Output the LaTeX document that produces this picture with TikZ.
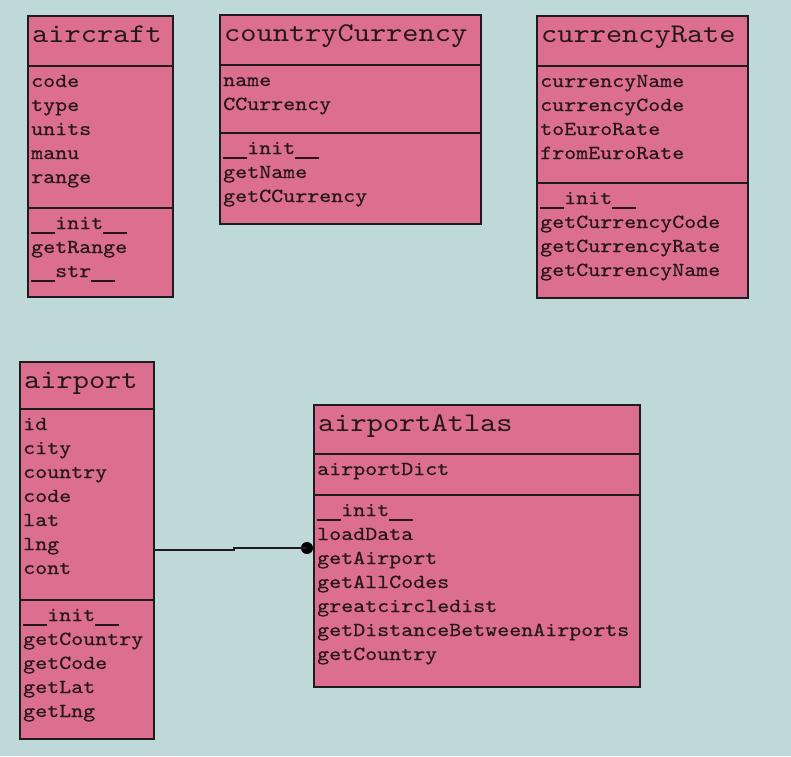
\documentclass[tikz,border=0pt]{standalone}
\usepackage{fontspec}
% slab-serif typewriter face, widened to a 0.6em advance per character
\newfontfamily\classmono[FakeStretch=1.143,FakeBold=0.35]{lmmono10-regular.otf}
\newfontfamily\classtitle[FakeStretch=1.143]{lmmono10-regular.otf}
\definecolor{canvas}{RGB}{191,217,216}
\definecolor{classfill}{RGB}{220,111,143}
\definecolor{inkline}{RGB}{30,28,30}
\definecolor{inktext}{RGB}{40,22,30}

% full-width underscore that joins with its neighbours
\newcommand\usc{\rule[-4.5pt]{0.6em}{1.1pt}}

\tikzset{
  classbox/.style={draw=inkline, fill=classfill, line width=1.5pt, inner sep=0pt, outer sep=0pt},
  sepline/.style={draw=inkline, line width=1.5pt},
  titletext/.style={inner sep=0pt, text=inktext, font=\classtitle\fontsize{27}{32}\selectfont},
  bodytext/.style={inner sep=0pt, text=inktext, font=\classmono\fontsize{20}{24}\selectfont},
  link/.style={draw=inkline, line width=1.5pt},
  joindot/.style={circle, fill=black, inner sep=0pt, minimum size=12pt}
}

% #1 name/title, #2 #3 top-left, #4 #5 bottom-right, #6 #7 compartment rules,
% #8 attributes, #9 methods
\newcommand\umlclass[9]{%
  \node[classbox, anchor=north west, minimum width={#4-#2}, minimum height={#5-#3}] (#1) at (#2,#3) {};
  \draw[sepline] (#2,#6) -- (#4,#6);
  \draw[sepline] (#2,#7) -- (#4,#7);
  \node[titletext, anchor=base west] (#1-title) at (#2+4,#3+26) {#1};
  \foreach \t [count=\i from 0] in {#8}
    \node[bodytext, anchor=base west] (#1-a\i) at (#2+3,#6+21+24*\i) {\t};
  \foreach \t [count=\i from 0] in {#9}
    \node[bodytext, anchor=base west] (#1-m\i) at (#2+3,#7+21+24*\i) {\t};
}

\begin{document}
\begin{tikzpicture}[x=1pt, y=-1pt]
  \fill[canvas] (0,0) rectangle (791,756);
  \useasboundingbox (0,0) rectangle (791,756);

  \umlclass{aircraft}{28}{16}{173}{297}{66}{208}
    {code,type,units,manu,range}
    {\usc\usc init\usc\usc,getRange,\usc\usc str\usc\usc}
  \umlclass{countryCurrency}{220}{15}{481}{224}{65}{133}
    {name,CCurrency}
    {\usc\usc init\usc\usc,getName,getCCurrency}
  \umlclass{currencyRate}{537}{16}{748}{298}{66}{183}
    {currencyName,currencyCode,toEuroRate,fromEuroRate}
    {\usc\usc init\usc\usc,getCurrencyCode,getCurrencyRate,getCurrencyName}
  \umlclass{airport}{20}{362}{154}{739}{409}{600}
    {id,city,country,code,lat,lng,cont}
    {\usc\usc init\usc\usc,getCountry,getCode,getLat,getLng}
  \umlclass{airportAtlas}{314}{405}{640}{687}{454}{495}
    {airportDict}
    {\usc\usc init\usc\usc,loadData,getAirport,getAllCodes,greatcircledist,getDistanceBetweenAirports,getCountry}

  % association from airport to airportAtlas, ending in a filled dot
  \node[joindot] (atlasdot) at (307,548) {};
  \coordinate (bend) at (234,550);
  \draw[link] (airport.east |- bend) -- (bend) -- (bend |- atlasdot) -- (atlasdot.center);
\end{tikzpicture}
\end{document}
